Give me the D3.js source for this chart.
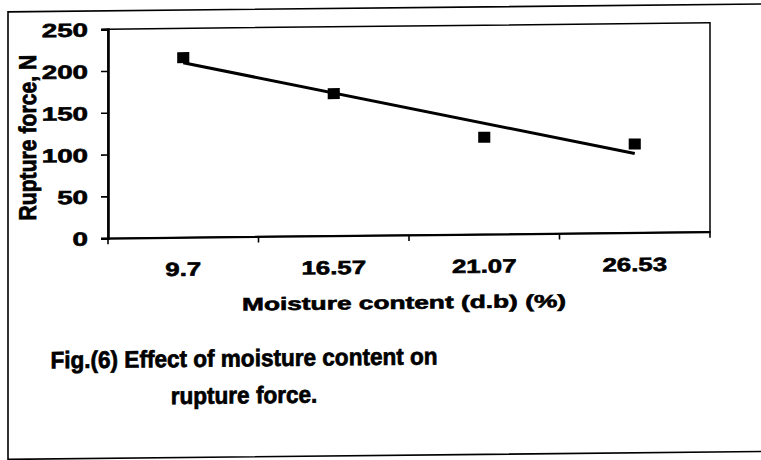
<!DOCTYPE html>
<html>
<head>
<meta charset="utf-8">
<script src="https://cdn.jsdelivr.net/npm/d3@7"></script>
<style>
  body { margin: 0; background: #fff; }
  text { font-family: "Liberation Sans", Arial, sans-serif; font-weight: bold; fill: #000; stroke: #000; stroke-width: 0.6px; }
</style>
</head>
<body>
<div id="chart"></div>
<script>
// data
const categories = ["9.7", "16.57", "21.07", "26.53"];
const ruptureForce = [215, 170, 116, 106];
const yTicks = [0, 50, 100, 150, 200, 250];

const svgWidth = 761;
const svgHeight = 460;

const plot = { left: 108, right: 710, top: 26.3, bottom: 235.3 };
// chart text in the scan is stretched sideways
const stretchX = 1.46;

const svg = d3.select("#chart")
  .append("svg")
  .attr("width", svgWidth)
  .attr("height", svgHeight);

// the scan is slightly skewed, right side a bit higher
const page = svg.append("g")
  .attr("transform", `translate(0, ${Math.tan(0.6 * Math.PI / 180) * 380}) skewY(-0.6)`);

// page frame (left, top, bottom edges only)
page.append("path")
  .attr("d", `M 790 8 L 8 8 L 8 455.5 L 790 455.5`)
  .attr("fill", "none")
  .attr("stroke", "#000")
  .attr("stroke-width", 1.6);

const xScale = d3.scaleBand()
  .domain(categories)
  .range([plot.left, plot.right])
  .padding(0);

const yScale = d3.scaleLinear()
  .domain([0, 250])
  .range([plot.bottom, plot.top]);

// plot area border
page.append("rect")
  .attr("x", plot.left)
  .attr("y", plot.top)
  .attr("width", plot.right - plot.left)
  .attr("height", plot.bottom - plot.top)
  .attr("fill", "none")
  .attr("stroke", "#000")
  .attr("stroke-width", 1.5);

// y axis
const yAxis = page.append("g")
  .attr("transform", `translate(${plot.left}, 0)`)
  .call(d3.axisLeft(yScale).tickValues(yTicks).tickSize(7).tickPadding(13));
yAxis.select(".domain").attr("stroke-width", 2.6);
yAxis.selectAll(".tick line").attr("stroke-width", 1.6);
yAxis.selectAll(".tick text")
  .style("font-size", "19px")
  .attr("x", 0)
  .attr("dy", "0.36em")
  .attr("transform", `translate(-20, 0) scale(${stretchX}, 1)`);

// x axis, labels in the middle of each category
const xAxis = page.append("g")
  .attr("transform", `translate(0, ${plot.bottom})`)
  .call(d3.axisBottom(xScale).tickSize(0).tickPadding(0));
xAxis.select(".domain").attr("stroke-width", 2);
xAxis.selectAll(".tick text")
  .style("font-size", "19px")
  .attr("y", 0)
  .attr("dy", 0)
  .attr("transform", `translate(0, 38.5) scale(1.36, 1)`);

// category boundary ticks
const bounds = categories.map(c => xScale(c)).concat([xScale.range()[1]]);
xAxis.selectAll(".bound")
  .data(bounds)
  .enter()
  .append("line")
  .classed("bound", true)
  .attr("x1", d => d)
  .attr("x2", d => d)
  .attr("y1", 0)
  .attr("y2", 6)
  .attr("stroke", "#000")
  .attr("stroke-width", 1.6);

// linear trend line (least squares over category index)
const idx = ruptureForce.map((d, i) => i + 1);
const mx = d3.mean(idx);
const my = d3.mean(ruptureForce);
const slope = d3.sum(idx, (d, i) => (d - mx) * (ruptureForce[i] - my)) /
  d3.sum(idx, d => (d - mx) * (d - mx));
const icpt = my - slope * mx;
const cx = c => xScale(c) + xScale.bandwidth() / 2;

page.append("line")
  .attr("x1", cx(categories[0]))
  .attr("y1", yScale(icpt + slope * idx[0]))
  .attr("x2", cx(categories[categories.length - 1]))
  .attr("y2", yScale(icpt + slope * idx[idx.length - 1]))
  .attr("stroke", "#000")
  .attr("stroke-width", 3);

// square markers
const markSize = 11;
page.selectAll(".mark")
  .data(ruptureForce)
  .enter()
  .append("rect")
  .classed("mark", true)
  .attr("x", (d, i) => cx(categories[i]) - markSize * 0.55)
  .attr("y", d => yScale(d) - markSize / 2)
  .attr("width", markSize * 1.1)
  .attr("height", markSize)
  .attr("fill", "#000");

// axis titles
page.append("text")
  .attr("transform", `translate(${(plot.left + plot.right) / 2 - 5}, 309) scale(1.46, 1)`)
  .attr("text-anchor", "middle")
  .style("font-size", "18px")
  .text("Moisture content (d.b) (%)");

page.append("text")
  .attr("transform", `translate(36, 134) scale(1.35, 1) rotate(-90)`)
  .attr("text-anchor", "middle")
  .attr("textLength", 166)
  .attr("lengthAdjust", "spacingAndGlyphs")
  .style("font-size", "18px")
  .text("Rupture force, N");

// figure caption
const captionLines = ["Fig.(6) Effect of moisture content on", "rupture force."];
page.selectAll(".caption")
  .data(captionLines)
  .enter()
  .append("text")
  .classed("caption", true)
  .attr("transform", (d, i) => `translate(244, ${365 + i * 37}) scale(0.94, 1)`)
  .attr("text-anchor", "middle")
  .style("font-size", "24px")
  .style("stroke-width", "0.7px")
  .text(d => d);
</script>
</body>
</html>
